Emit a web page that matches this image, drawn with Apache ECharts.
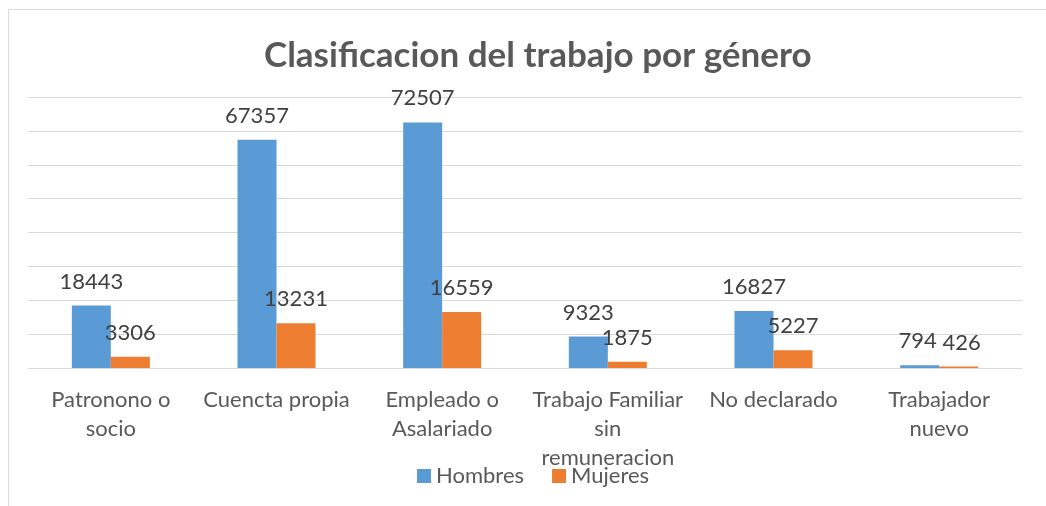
<!DOCTYPE html>
<html>
<head>
<meta charset="utf-8">
<script src="https://cdn.jsdelivr.net/npm/echarts@6/dist/echarts.min.js"></script>
<style>
html,body{margin:0;padding:0;background:#fff;}
#c{width:1046px;height:506px;}
</style>
</head>
<body>
<div id="c"></div>
<script>
const categories = ["Patronono o\nsocio", "Cuencta propia", "Empleado o\nAsalariado", "Trabajo Familiar\nsin\nremuneracion", "No declarado", "Trabajador\nnuevo"];
const hombres = [18443, 67357, 72507, 9323, 16827, 794];
const mujeres = [3306, 13231, 16559, 1875, 5227, 426];
const seriesNames = ["Hombres", "Mujeres"];
const titleText = "Clasificacion del trabajo por género";

const FONT = "Lato, 'Open Sans', sans-serif";
const chart = echarts.init(document.getElementById('c'), null, {renderer: 'canvas'});
const labelCfg = {
  show: true, position: 'top', distance: 13,
  color: '#404040', fontSize: 22, fontFamily: FONT
};
// nudge the small-value labels of the last category apart so they don't touch
const withOffset = (arr, dx) => arr.map((v, i) => i === arr.length - 1 ? {value: v, label: {offset: [dx, 0]}} : v);
chart.setOption({
  animation: false,
  backgroundColor: '#fff',
  title: {
    text: titleText, left: 259, top: 33,
    textStyle: {color: '#595959', fontSize: 35, fontWeight: 'bold', fontFamily: FONT}
  },
  graphic: [
    {type: 'line', shape: {x1: 8.5, y1: 9.5, x2: 1046, y2: 9.5}, style: {stroke: '#d9d9d9', lineWidth: 1}},
    {type: 'line', shape: {x1: 8.5, y1: 9.5, x2: 8.5, y2: 506}, style: {stroke: '#d9d9d9', lineWidth: 1}}
  ],
  legend: {
    data: seriesNames, left: 412, top: 460, icon: 'rect',
    itemWidth: 14, itemHeight: 14, itemGap: 28,
    textStyle: {color: '#595959', fontSize: 22, fontFamily: FONT}
  },
  grid: {left: 28, right: 24, top: 97, bottom: 138, containLabel: false},
  xAxis: {
    type: 'category', data: categories,
    axisLine: {show: true, lineStyle: {color: '#d9d9d9', width: 1}},
    axisTick: {show: false},
    axisLabel: {interval: 0, color: '#595959', fontSize: 22, fontFamily: FONT, lineHeight: 29, margin: 17}
  },
  yAxis: {
    type: 'value', min: 0, max: 80000, interval: 10000,
    axisLabel: {show: false}, axisLine: {show: false}, axisTick: {show: false},
    splitLine: {lineStyle: {color: '#d9d9d9', width: 1}}
  },
  series: [
    {name: seriesNames[0], type: 'bar', data: withOffset(hombres, -2), barWidth: 39, barGap: '0%',
     itemStyle: {color: '#5b9bd5'}, label: labelCfg},
    {name: seriesNames[1], type: 'bar', data: withOffset(mujeres, 3), barWidth: 39, barGap: '0%',
     itemStyle: {color: '#ed7d31'}, label: labelCfg}
  ]
});
</script>
</body>
</html>
